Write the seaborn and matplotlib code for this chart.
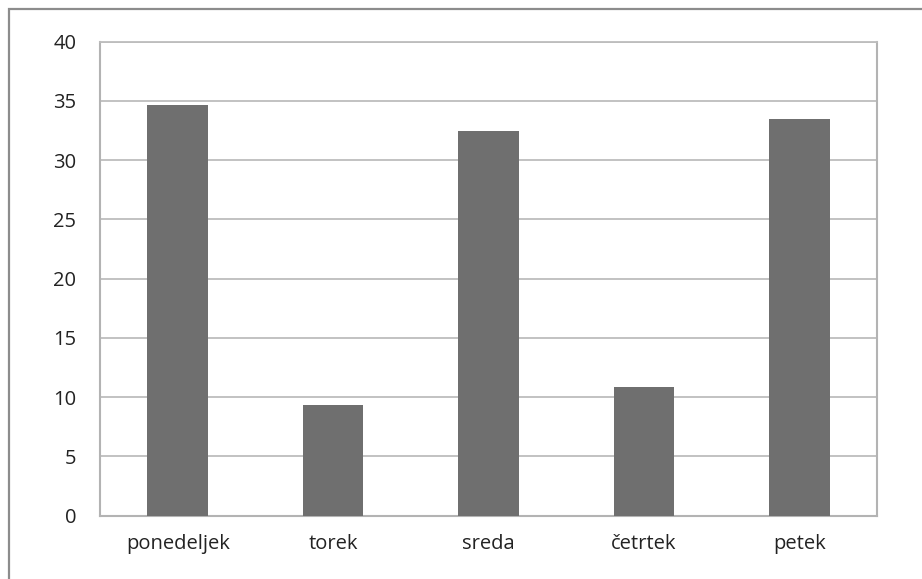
import matplotlib
matplotlib.use("Agg")
import matplotlib.pyplot as plt
import seaborn as sns
import pandas as pd
from matplotlib.patches import Rectangle

categories = ["ponedeljek", "torek", "sreda", "četrtek", "petek"]
values = [34.7, 9.3, 32.5, 10.9, 33.5]
yticks = [0, 5, 10, 15, 20, 25, 30, 35, 40]

sns.set_style("white")
plt.rcParams['font.family'] = ['Open Sans', 'DejaVu Sans']

W, H = 922, 579
fig = plt.figure(figsize=(W / 100, H / 100), dpi=100)
ax = fig.add_axes([100 / W, (H - 515.7) / H, (877 - 100) / W, (515.7 - 41.7) / H])

df = pd.DataFrame({"day": categories, "value": values})
sns.barplot(data=df, x="day", y="value", color="#6f6f6f", saturation=1,
            width=0.39, ax=ax, zorder=3, edgecolor="none", linewidth=0)

ax.set_ylim(0, 40)
ax.set_yticks(yticks)
ax.set_yticklabels([str(t) for t in yticks])
ax.set_xlabel("")
ax.set_ylabel("")
ax.grid(axis="y", color="#bdbdbd", linewidth=1.3, zorder=0)
ax.set_axisbelow(True)
for side in ["left", "right", "bottom", "top"]:
    ax.spines[side].set_visible(True)
    ax.spines[side].set_color("#b3b3b3")
    ax.spines[side].set_linewidth(1.5)
ax.spines["top"].set_color("#bdbdbd")
ax.spines["top"].set_linewidth(1.3)
ax.tick_params(axis="both", length=0, labelsize=14.5, colors="#222222")
ax.tick_params(axis="y", pad=17)
ax.tick_params(axis="x", pad=13)

fig.patches.append(Rectangle((8.5 / W, -0.1), 1.2, (H - 8.5) / H + 0.1,
                             transform=fig.transFigure, fill=False,
                             edgecolor="#8c8c8c", linewidth=1.6))

fig.savefig("out.png", dpi=100)
